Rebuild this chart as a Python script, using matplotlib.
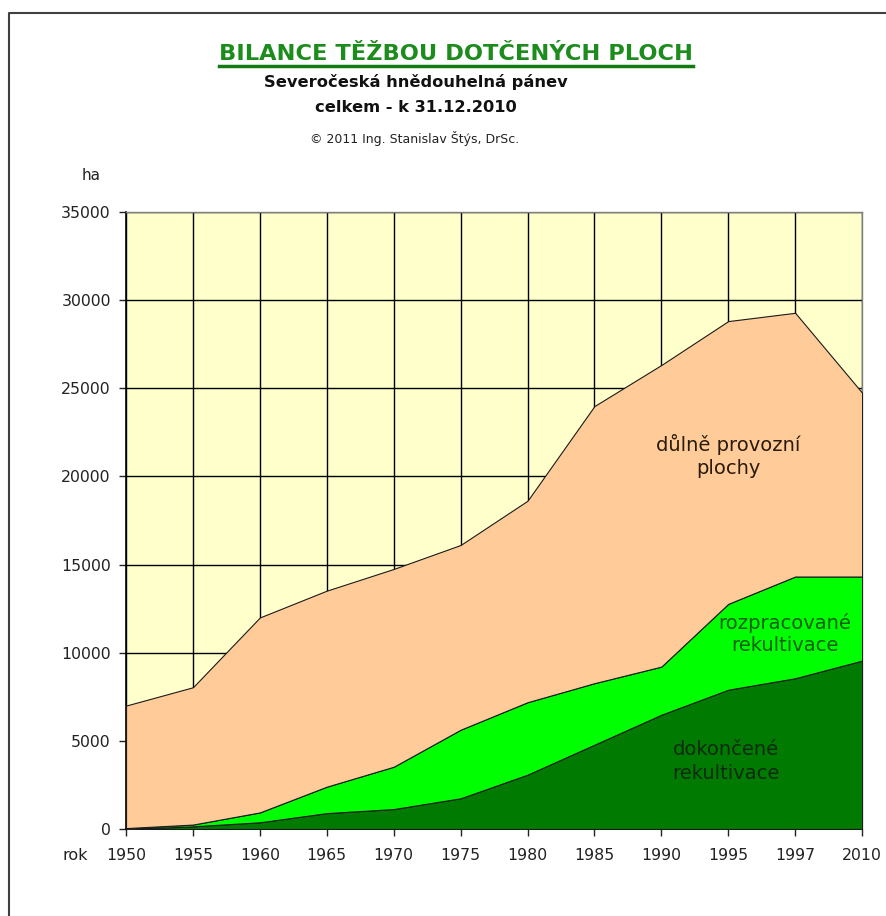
import numpy as np
import matplotlib.pyplot as plt
from matplotlib.lines import Line2D

# Data (ha)
roky = ["1950", "1955", "1960", "1965", "1970", "1975", "1980", "1985", "1990", "1995", "1997", "2010"]
dokoncene = [0, 150, 380, 900, 1130, 1740, 3080, 4780, 6480, 7900, 8550, 9550]
rozprac_kum = [50, 250, 940, 2400, 3530, 5630, 7190, 8270, 9210, 12770, 14320, 14320]
celkem = [7000, 8040, 12000, 13520, 14750, 16110, 18620, 23990, 26320, 28810, 29280, 24750]

rozpracovane = [r - d for r, d in zip(rozprac_kum, dokoncene)]
provozni = [c - r for c, r in zip(celkem, rozprac_kum)]

plt.rcParams['font.family'] = ['DejaVu Sans']

fig = plt.figure(figsize=(8.87, 9.16), dpi=100)
ax = fig.add_axes([0.1421, 0.0950, 0.8298, 0.6736])

x = np.arange(len(roky))
ax.set_facecolor("#FFFFCC")
ax.stackplot(x, dokoncene, rozpracovane, provozni,
             colors=["#007A00", "#00FF00", "#FFCC99"],
             edgecolor="#1a1a1a", linewidth=0.8, zorder=3)

ax.set_xlim(0, len(roky) - 1)
ax.set_ylim(0, 35000)
ax.set_yticks(np.arange(0, 35001, 5000))
ax.set_xticks(x)
ax.set_xticklabels(roky)
ax.grid(True, color="black", linewidth=1.0, zorder=1)
ax.set_axisbelow(True)
ax.tick_params(axis="y", direction="out", length=5, width=1, pad=6, labelsize=11.3, colors="#222222")
ax.tick_params(axis="x", direction="out", length=5, width=1, pad=9, labelsize=11.3, colors="#222222")

for s in ["left", "bottom"]:
    ax.spines[s].set_color("black")
    ax.spines[s].set_linewidth(1.2)
for s in ["top", "right"]:
    ax.spines[s].set_color("#808080")
    ax.spines[s].set_linewidth(1.0)

# popisky ploch
ax.text(0.818, 0.6045, "důlně provozní\nplochy", transform=ax.transAxes, ha="center", va="center",
        fontsize=14, color="#2a1a0a", linespacing=1.3, zorder=5)
ax.text(0.8954, 0.3152, "rozpracované\nrekultivace", transform=ax.transAxes, ha="center", va="center",
        fontsize=14, color="#0b5e0b", linespacing=1.2, zorder=5)
ax.text(0.8152, 0.1094, "dokončené\nrekultivace", transform=ax.transAxes, ha="center", va="center",
        fontsize=14, color="#0e2a0e", linespacing=1.3, zorder=5)

# nadpisy
W, H = 887.0, 916.0
t = fig.text(456 / W, 1 - 54 / H, "BILANCE TĚŽBOU DOTČENÝCH PLOCH", ha="center", va="center",
             fontsize=16.2, fontweight="bold", color="#1c8c1c")
fig.text(416 / W, 1 - 82 / H, "Severočeská hnědouhelná pánev", ha="center", va="center",
         fontsize=11.7, fontweight="bold", color="#111111")
fig.text(416 / W, 1 - 108 / H, "celkem - k 31.12.2010", ha="center", va="center",
         fontsize=11.7, fontweight="bold", color="#111111")
fig.text(415 / W, 1 - 139 / H, "© 2011 Ing. Stanislav Štýs, DrSc.", ha="center", va="center",
         fontsize=9, color="#222222")
fig.text(91 / W, 1 - 175 / H, "ha", ha="center", va="center", fontsize=11, color="#222222")
fig.text(75 / W, 1 - 855 / H, "rok", ha="center", va="center", fontsize=11.5, color="#222222")

# podtrzeni nadpisu
fig.canvas.draw()
bb = t.get_window_extent(fig.canvas.get_renderer())
y_line = (bb.y0 - 2) / fig.bbox.height
fig.add_artist(Line2D([bb.x0 / fig.bbox.width, bb.x1 / fig.bbox.width], [y_line, y_line],
                      transform=fig.transFigure, color="#117a11", linewidth=2.5))

# ramecek
fig.add_artist(Line2D([9 / W, 9 / W, 1.0], [0.0, 1 - 13 / H, 1 - 13 / H],
                      transform=fig.transFigure, color="#404040", linewidth=1.5))

fig.savefig("out.png", dpi=100)
